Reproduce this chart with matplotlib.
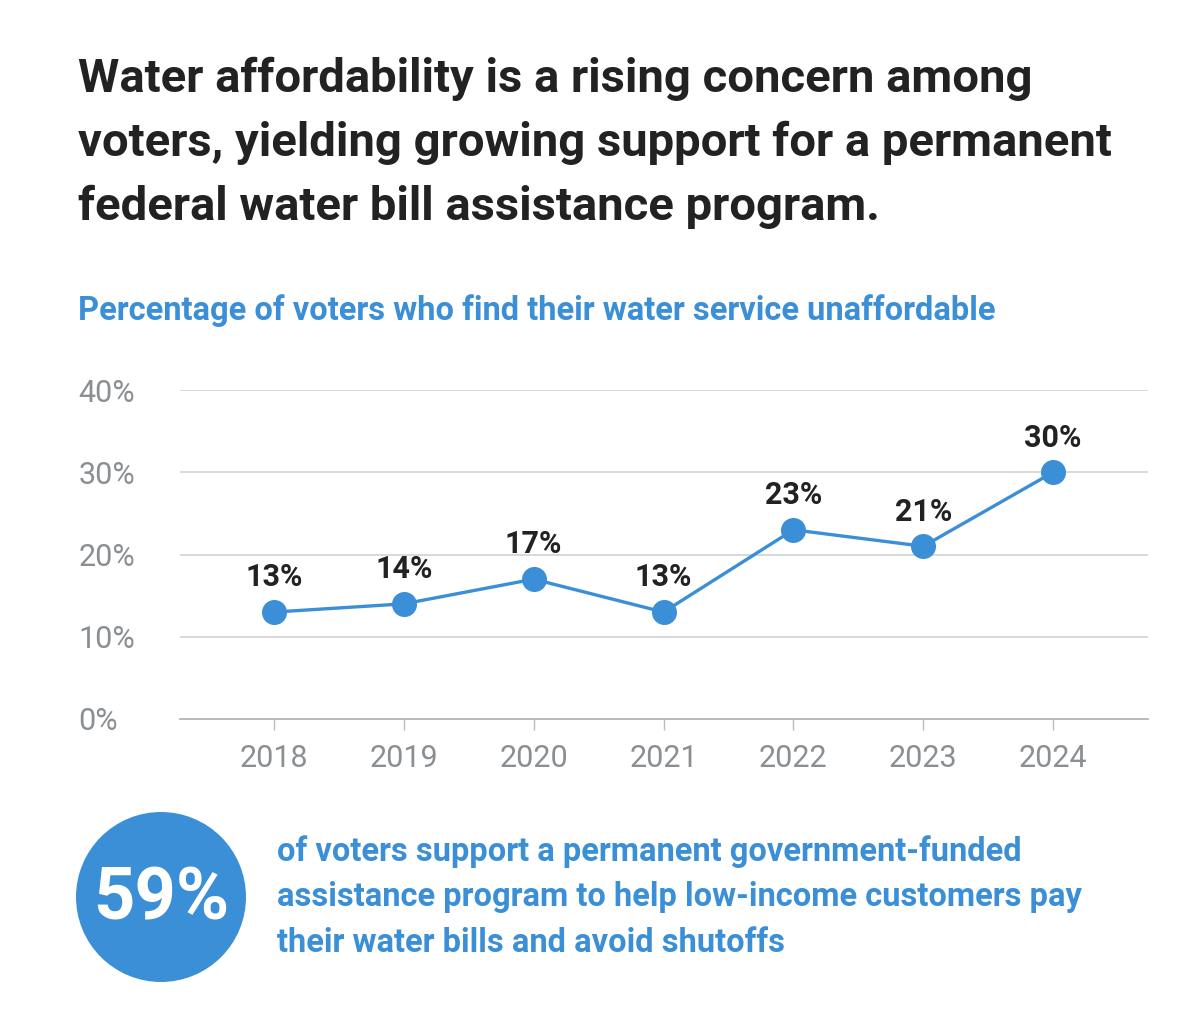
import matplotlib
matplotlib.use("Agg")
import matplotlib.pyplot as plt
from matplotlib.patches import Ellipse

years = [2018, 2019, 2020, 2021, 2022, 2023, 2024]
pct = [13, 14, 17, 13, 23, 21, 30]
yticks = [0, 10, 20, 30, 40]

blue = "#3b8fd6"
dark = "#222222"
grey = "#8a8f94"

plt.rcParams['font.family'] = ['Roboto', 'DejaVu Sans']

fig = plt.figure(figsize=(12, 10.32), dpi=100)
fig.patch.set_facecolor("white")

fig.text(78/1200, 1-143/1032, "Water affordability is a rising concern among\n"
         "voters, yielding growing support for a permanent\n"
         "federal water bill assistance program.",
         fontsize=34, fontweight="bold", color=dark, va="center", ha="left",
         linespacing=1.56)
fig.text(78/1200, 1-311/1032, "Percentage of voters who find their water service unaffordable",
         fontsize=23.5, fontweight="bold", color=blue, va="center", ha="left")

ax = fig.add_axes([180/1200, 1-719/1032, 968/1200, 329/1032])
ax.plot(years, pct, color=blue, lw=2.4, marker="o", ms=17, zorder=3)
for x, y in zip(years, pct):
    ax.annotate(f"{y}%", (x, y), xytext=(0, 25), textcoords="offset points",
                ha="center", va="center", fontsize=22, fontweight="bold", color=dark)

ax.set_xlim(years[0] - 0.723, years[-1] + 0.73)
ax.set_ylim(0, 40)
ax.set_yticks(yticks)
ax.set_yticklabels([f"{t}%" for t in yticks])
ax.set_xticks(years)
ax.set_xticklabels([str(y) for y in years])
ax.grid(axis="y", color="#cfd2d4", lw=1.2)
ax.set_axisbelow(True)
for s in ["top", "right", "left"]:
    ax.spines[s].set_visible(False)
ax.spines["bottom"].set_color("#b8bcbf")
ax.spines["bottom"].set_linewidth(1.4)
ax.tick_params(axis="y", length=0, pad=73, labelsize=22, labelcolor=grey)
ax.tick_params(axis="x", length=8, color="#b8bcbf", width=1, pad=10,
               labelsize=22, labelcolor=grey)
for lbl in ax.get_yticklabels():
    lbl.set_horizontalalignment("left")

fig.add_artist(Ellipse((161/1200, 1-897/1032), 170/1200, 170/1032,
                       transform=fig.transFigure, color=blue, lw=0))
fig.text(161/1200, 1-900/1032, "59%", fontsize=52, fontweight="bold",
         color="white", ha="center", va="center")
fig.text(277/1200, 1-897/1032,
         "of voters support a permanent government-funded\n"
         "assistance program to help low-income customers pay\n"
         "their water bills and avoid shutoffs",
         fontsize=23.5, fontweight="bold", color=blue, ha="left", va="center",
         linespacing=1.53)

fig.savefig("out.png", dpi=100)
